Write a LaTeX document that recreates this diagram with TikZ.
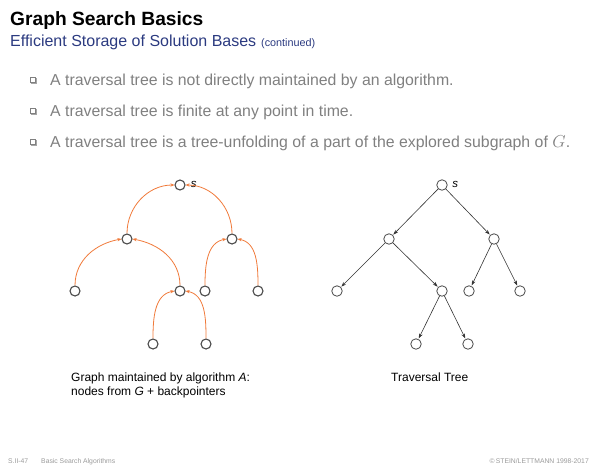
\documentclass[tikz,border=0pt]{standalone}
\usepackage{fontspec}
\setmainfont{Liberation Sans}
\setsansfont{Liberation Sans}
\usetikzlibrary{arrows.meta}
\definecolor{navy}{HTML}{2B3A80}
\definecolor{bodygray}{HTML}{808080}
\definecolor{footgray}{HTML}{9A9A9A}
\definecolor{arrorange}{HTML}{F07A3A}
\definecolor{nodegray}{HTML}{4A4A4A}
\tikzset{
  vtx/.style={circle,draw=nodegray,fill=white,line width=1.1pt,minimum size=10pt,inner sep=0pt},
  tvtx/.style={circle,draw=nodegray,fill=white,line width=0.8pt,minimum size=10.5pt,inner sep=0pt},
  bptr/.style={draw=arrorange,line width=0.8pt,-{Stealth[length=4pt,width=3.2pt]}},
  tedge/.style={draw=black!80,line width=0.6pt,-{Stealth[length=5pt,width=3.5pt]},shorten >=0.5pt},
  bulletbox/.style={draw=bodygray,fill=white,line width=0.5pt,minimum size=5pt,inner sep=0pt},
  bodytext/.style={anchor=base west,inner sep=0pt,text=bodygray,font=\fontsize{15.85}{18}\selectfont},
  captext/.style={anchor=base west,inner sep=0pt,font=\fontsize{12}{14}\selectfont,align=left},
  foot/.style={inner sep=0pt,text=footgray,font=\fontsize{6.8}{8}\selectfont},
  slabel/.style={inner sep=0pt,font=\fontsize{11.5}{12}\selectfont\itshape}
}
\begin{document}
\begin{tikzpicture}[x=1pt,y=-1pt]
\useasboundingbox (0,0) rectangle (600,467);
% header
\node[anchor=base west,inner sep=0pt,font=\fontsize{19.2}{21}\selectfont\bfseries] (title) at (10,25) {Graph Search Basics};
\node[anchor=base west,inner sep=0pt,text=navy,font=\fontsize{16}{18}\selectfont] (sub) at (10,46) {Efficient Storage of Solution Bases};
\node[anchor=base west,inner sep=0pt,text=navy,font=\fontsize{10.8}{12}\selectfont] (cont) at (261,46) {(continued)};
% bullets
\foreach \n/\yy in {b1/80,b2/111,b3/142}{
  \node[bulletbox] (\n) at (33,\yy) {};
  \draw[bodygray!70,line width=0.7pt] ([xshift=0.6pt,yshift=-0.6pt]\n.south west) -- ([xshift=0.6pt,yshift=-0.6pt]\n.south east) -- ([xshift=0.6pt,yshift=-0.6pt]\n.north east);
}
\node[bodytext] (t1) at (50,85) {A traversal tree is not directly maintained by an algorithm.};
\node[bodytext] (t2) at (50,116) {A traversal tree is finite at any point in time.};
\node[bodytext] (t3) at (50,147) {A traversal tree is a tree-unfolding of a part of the explored subgraph of $G$.};
% left graph
\node[vtx] (ls) at (180,185) {};
\node[vtx] (la) at (127,239) {};
\node[vtx] (lb) at (232,239) {};
\node[vtx] (l1) at (75,291) {};
\node[vtx] (lc) at (180,291) {};
\node[vtx] (l2) at (205,291) {};
\node[vtx] (l3) at (258,291) {};
\node[vtx] (l4) at (153,344) {};
\node[vtx] (l5) at (206,344) {};
\node[slabel,anchor=west] (lsl) at (ls.east) [xshift=5pt,yshift=1pt] {s};
\draw[bptr] (la.north) to[out=90,in=180] (ls.west);
\draw[bptr] (lb.north) to[out=90,in=0] (ls.east);
\draw[bptr] (l1.north) to[out=90,in=190] (la.west);
\draw[bptr] (lc.north) to[out=90,in=-10] (la.east);
\draw[bptr] (l2.north) to[out=90,in=190] (lb.west);
\draw[bptr] (l3.north) to[out=90,in=-10] (lb.east);
\draw[bptr] (l4.north) to[out=90,in=190] (lc.west);
\draw[bptr] (l5.north) to[out=90,in=-10] (lc.east);
% right tree
\node[tvtx] (rs) at (442,185) {};
\node[tvtx] (ra) at (389,239) {};
\node[tvtx] (rb) at (494,239) {};
\node[tvtx] (r1) at (337,291) {};
\node[tvtx] (rc) at (442,291) {};
\node[tvtx] (r2) at (469,291) {};
\node[tvtx] (r3) at (520,291) {};
\node[tvtx] (r4) at (416,344) {};
\node[tvtx] (r5) at (468,344) {};
\node[slabel,anchor=west] (rsl) at (rs.east) [xshift=4.5pt,yshift=1pt] {s};
\draw[tedge] (rs) -- (ra);
\draw[tedge] (rs) -- (rb);
\draw[tedge] (ra) -- (r1);
\draw[tedge] (ra) -- (rc);
\draw[tedge] (rb) -- (r2);
\draw[tedge] (rb) -- (r3);
\draw[tedge] (rc) -- (r4);
\draw[tedge] (rc) -- (r5);
% captions
\node[captext] (cap1) at (71,395) {Graph maintained by algorithm \textit{A}:\\nodes from \textit{G} + backpointers};
\node[captext] (cap2) at (391,381) {Traversal Tree};
% footer
\node[foot,anchor=base west] (f1) at (8,463) {S.II-47\hspace{13pt}Basic Search Algorithms};
\node[foot,anchor=base east] (f2) at (589,463) {©\,STEIN/LETTMANN 1998-2017};
\end{tikzpicture}
\end{document}
